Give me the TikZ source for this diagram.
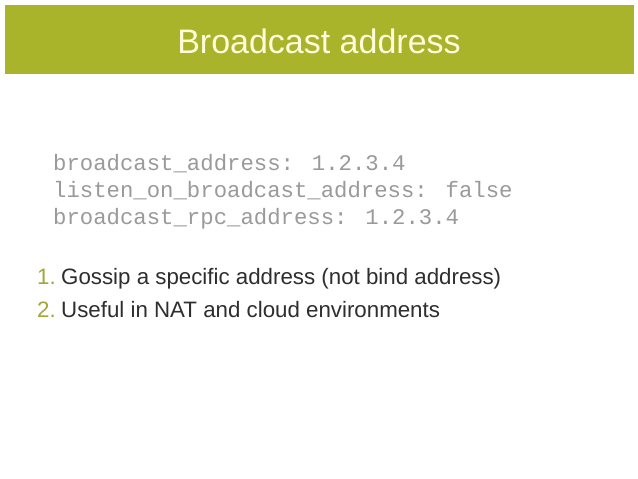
\documentclass[tikz,border=0pt]{standalone}
\usepackage{fontspec}
\setmainfont{Liberation Sans}
\newfontfamily\codefont{Liberation Mono}
\definecolor{bandgreen}{HTML}{A9B42B}
\definecolor{titlecream}{HTML}{FFFBDD}
\definecolor{codegray}{HTML}{9A9A9A}
\definecolor{numolive}{HTML}{A3A63A}
\definecolor{textdark}{HTML}{2E2E2E}
\tikzset{
  titletext/.style={anchor=base, inner sep=0pt, text=titlecream, font=\fontsize{34}{40}\selectfont},
  codeline/.style={anchor=base west, inner sep=0pt, text=codegray, font=\codefont\fontsize{22.3}{26}\selectfont},
  itemnum/.style={anchor=base west, inner sep=0pt, text=numolive, font=\fontsize{22.3}{26}\selectfont},
  itemtext/.style={anchor=base west, inner sep=0pt, text=textdark, font=\fontsize{22.3}{26}\selectfont}
}
\begin{document}
\begin{tikzpicture}[x=1pt,y=1pt]
\useasboundingbox (0,0) rectangle (638,-479);
\fill[white] (0,0) rectangle (638,-479);
\fill[bandgreen] (5,-5) rectangle (634,-74);
\node[titletext] (title) at (319,-53) {Broadcast address};
\node[codeline] (c1) at (53,-170) {broadcast\_address: 1.2.3.4};
\node[codeline] (c2) at (53,-197) {listen\_on\_broadcast\_address: false};
\node[codeline] (c3) at (53,-224) {broadcast\_rpc\_address: 1.2.3.4};
\node[itemnum] (n1) at (37,-284) {1.};
\node[itemtext] (t1) at (61,-284) {Gossip a specific address (not bind address)};
\node[itemnum] (n2) at (37,-317) {2.};
\node[itemtext] (t2) at (61,-317) {Useful in NAT and cloud environments};
\end{tikzpicture}
\end{document}
